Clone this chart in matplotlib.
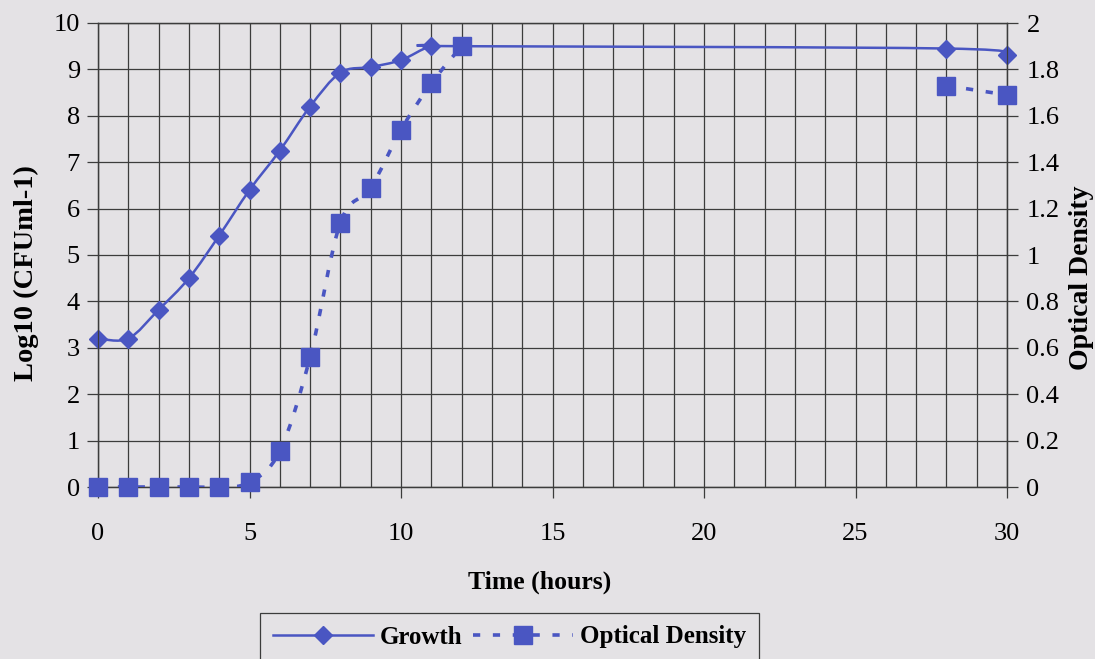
import numpy as np
import matplotlib
matplotlib.use("Agg")
import matplotlib.pyplot as plt
from matplotlib.path import Path
from matplotlib.patches import PathPatch
from matplotlib.lines import Line2D
from matplotlib.ticker import MultipleLocator, FuncFormatter

# ---- data ----
growth_time = [0, 1, 2, 3, 4, 5, 6, 7, 8, 9, 10, 11, 12, 28, 30]
growth_log = [3.2, 3.2, 3.82, 4.5, 5.42, 6.4, 7.25, 8.2, 8.93, 9.05, 9.2, 9.5, 9.5, 9.45, 9.3]

od_time_early = [0, 1, 2, 3, 4, 5, 6, 7, 8, 9, 10, 11, 12]
od_early = [0.0, 0.0, 0.0, 0.0, 0.0, 0.02, 0.155, 0.56, 1.14, 1.29, 1.54, 1.74, 1.9]
od_time_late = [28, 30]
od_late = [1.73, 1.69]

x_ticks = [0, 5, 10, 15, 20, 25, 30]
left_ticks = list(range(0, 11))
right_ticks = [0, 0.2, 0.4, 0.6, 0.8, 1.0, 1.2, 1.4, 1.6, 1.8, 2.0]

BG = "#e4e2e5"
BLUE = "#4a56c2"
GRID = "#3c3c3c"
SERIF = ["Liberation Serif", "DejaVu Serif"]

plt.rcParams['font.family'] = SERIF

W, H = 1095, 659


def smooth_path(xs, ys):
    pts = np.column_stack([xs, ys]).astype(float)
    n = len(pts)
    verts = [pts[0]]
    codes = [Path.MOVETO]
    for i in range(n - 1):
        p0 = pts[i - 1] if i > 0 else pts[i]
        p1 = pts[i]
        p2 = pts[i + 1]
        p3 = pts[i + 2] if i + 2 < n else pts[i + 1]
        c1 = p1 + (p2 - p0) / 6.0
        c2 = p2 - (p3 - p1) / 6.0
        verts += [c1, c2, p2]
        codes += [Path.CURVE4] * 3
    return Path(verts, codes)


fig = plt.figure(figsize=(W / 100, H / 100), dpi=100, facecolor=BG)
ax = fig.add_axes([98 / W, 1 - 487 / H, (1007 - 98) / W, (487 - 23) / H])
ax.set_facecolor(BG)
ax2 = ax.twinx()

ax.set_xlim(0, 30)
ax.set_ylim(0, 10)
ax2.set_ylim(0, 2)

ax.xaxis.set_minor_locator(MultipleLocator(1))
ax.set_xticks(x_ticks)
ax.set_yticks(left_ticks)
ax2.set_yticks(right_ticks)
ax2.yaxis.set_major_formatter(FuncFormatter(lambda v, p: f"{v:g}"))
ax.grid(True, which='both', axis='x', color=GRID, lw=0.9)
ax.grid(True, which='major', axis='y', color=GRID, lw=0.9)
ax.set_axisbelow(True)

for a in (ax, ax2):
    for s in a.spines.values():
        s.set_color(GRID)
        s.set_linewidth(0.9)

ax.tick_params(axis='x', which='major', length=8, width=0.9, color=GRID, labelsize=19, pad=18)
ax.tick_params(axis='x', which='minor', length=0)
ax.tick_params(axis='y', length=8, width=0.9, color=GRID, labelsize=19, pad=5)
ax2.tick_params(axis='y', length=8, width=0.9, color=GRID, labelsize=19, pad=6)

DASH = (0, (2.0, 3.5))

# growth (left axis) - smoothed line
gp = smooth_path(growth_time, growth_log)
ax.add_patch(PathPatch(gp, facecolor='none', edgecolor=BLUE, lw=1.8, zorder=3))
ax.plot(growth_time, growth_log, linestyle='none', marker='D', markersize=9.5,
        color=BLUE, clip_on=False, zorder=4)

# optical density (right axis) - smoothed dashed
for tx, ty in ((od_time_early, od_early), (od_time_late, od_late)):
    p = smooth_path(tx, ty)
    ax2.add_patch(PathPatch(p, facecolor='none', edgecolor=BLUE, lw=2.6,
                            linestyle=DASH, zorder=3))
    ax2.plot(tx, ty, linestyle='none', marker='s', markersize=13,
             color=BLUE, clip_on=False, zorder=5)

# axis titles
fig.text(26 / W, 1 - 273 / H, "Log10 (CFUml-1)", rotation=90, ha='center', va='center',
         fontsize=20.5, fontweight='bold', family=SERIF)
fig.text(1082 / W, 1 - 278 / H, "Optical Density", rotation=90, ha='center', va='center',
         fontsize=20, fontweight='bold', family=SERIF)
fig.text(540 / W, 1 - 582 / H, "Time (hours)", ha='center', va='center',
         fontsize=18.5, fontweight='bold', family=SERIF)

handles = [
    Line2D([], [], color=BLUE, lw=1.8, marker='D', markersize=9.5),
    Line2D([], [], color=BLUE, lw=2.6, linestyle=DASH, marker='s', markersize=13),
]
leg = fig.legend(handles, ["Growth", "Optical Density"], loc='upper left',
                 bbox_to_anchor=(260 / W, 1 - 613 / H), ncol=2,
                 frameon=True, fancybox=False, edgecolor=GRID, facecolor=BG,
                 prop={'family': SERIF, 'weight': 'bold', 'size': 18},
                 handlelength=4.0, columnspacing=0.4, handletextpad=0.3,
                 borderpad=0.5, borderaxespad=0)
leg.get_frame().set_linewidth(0.9)
leg.get_frame().set_alpha(1)

fig.savefig("out.png", dpi=100, facecolor=BG)
